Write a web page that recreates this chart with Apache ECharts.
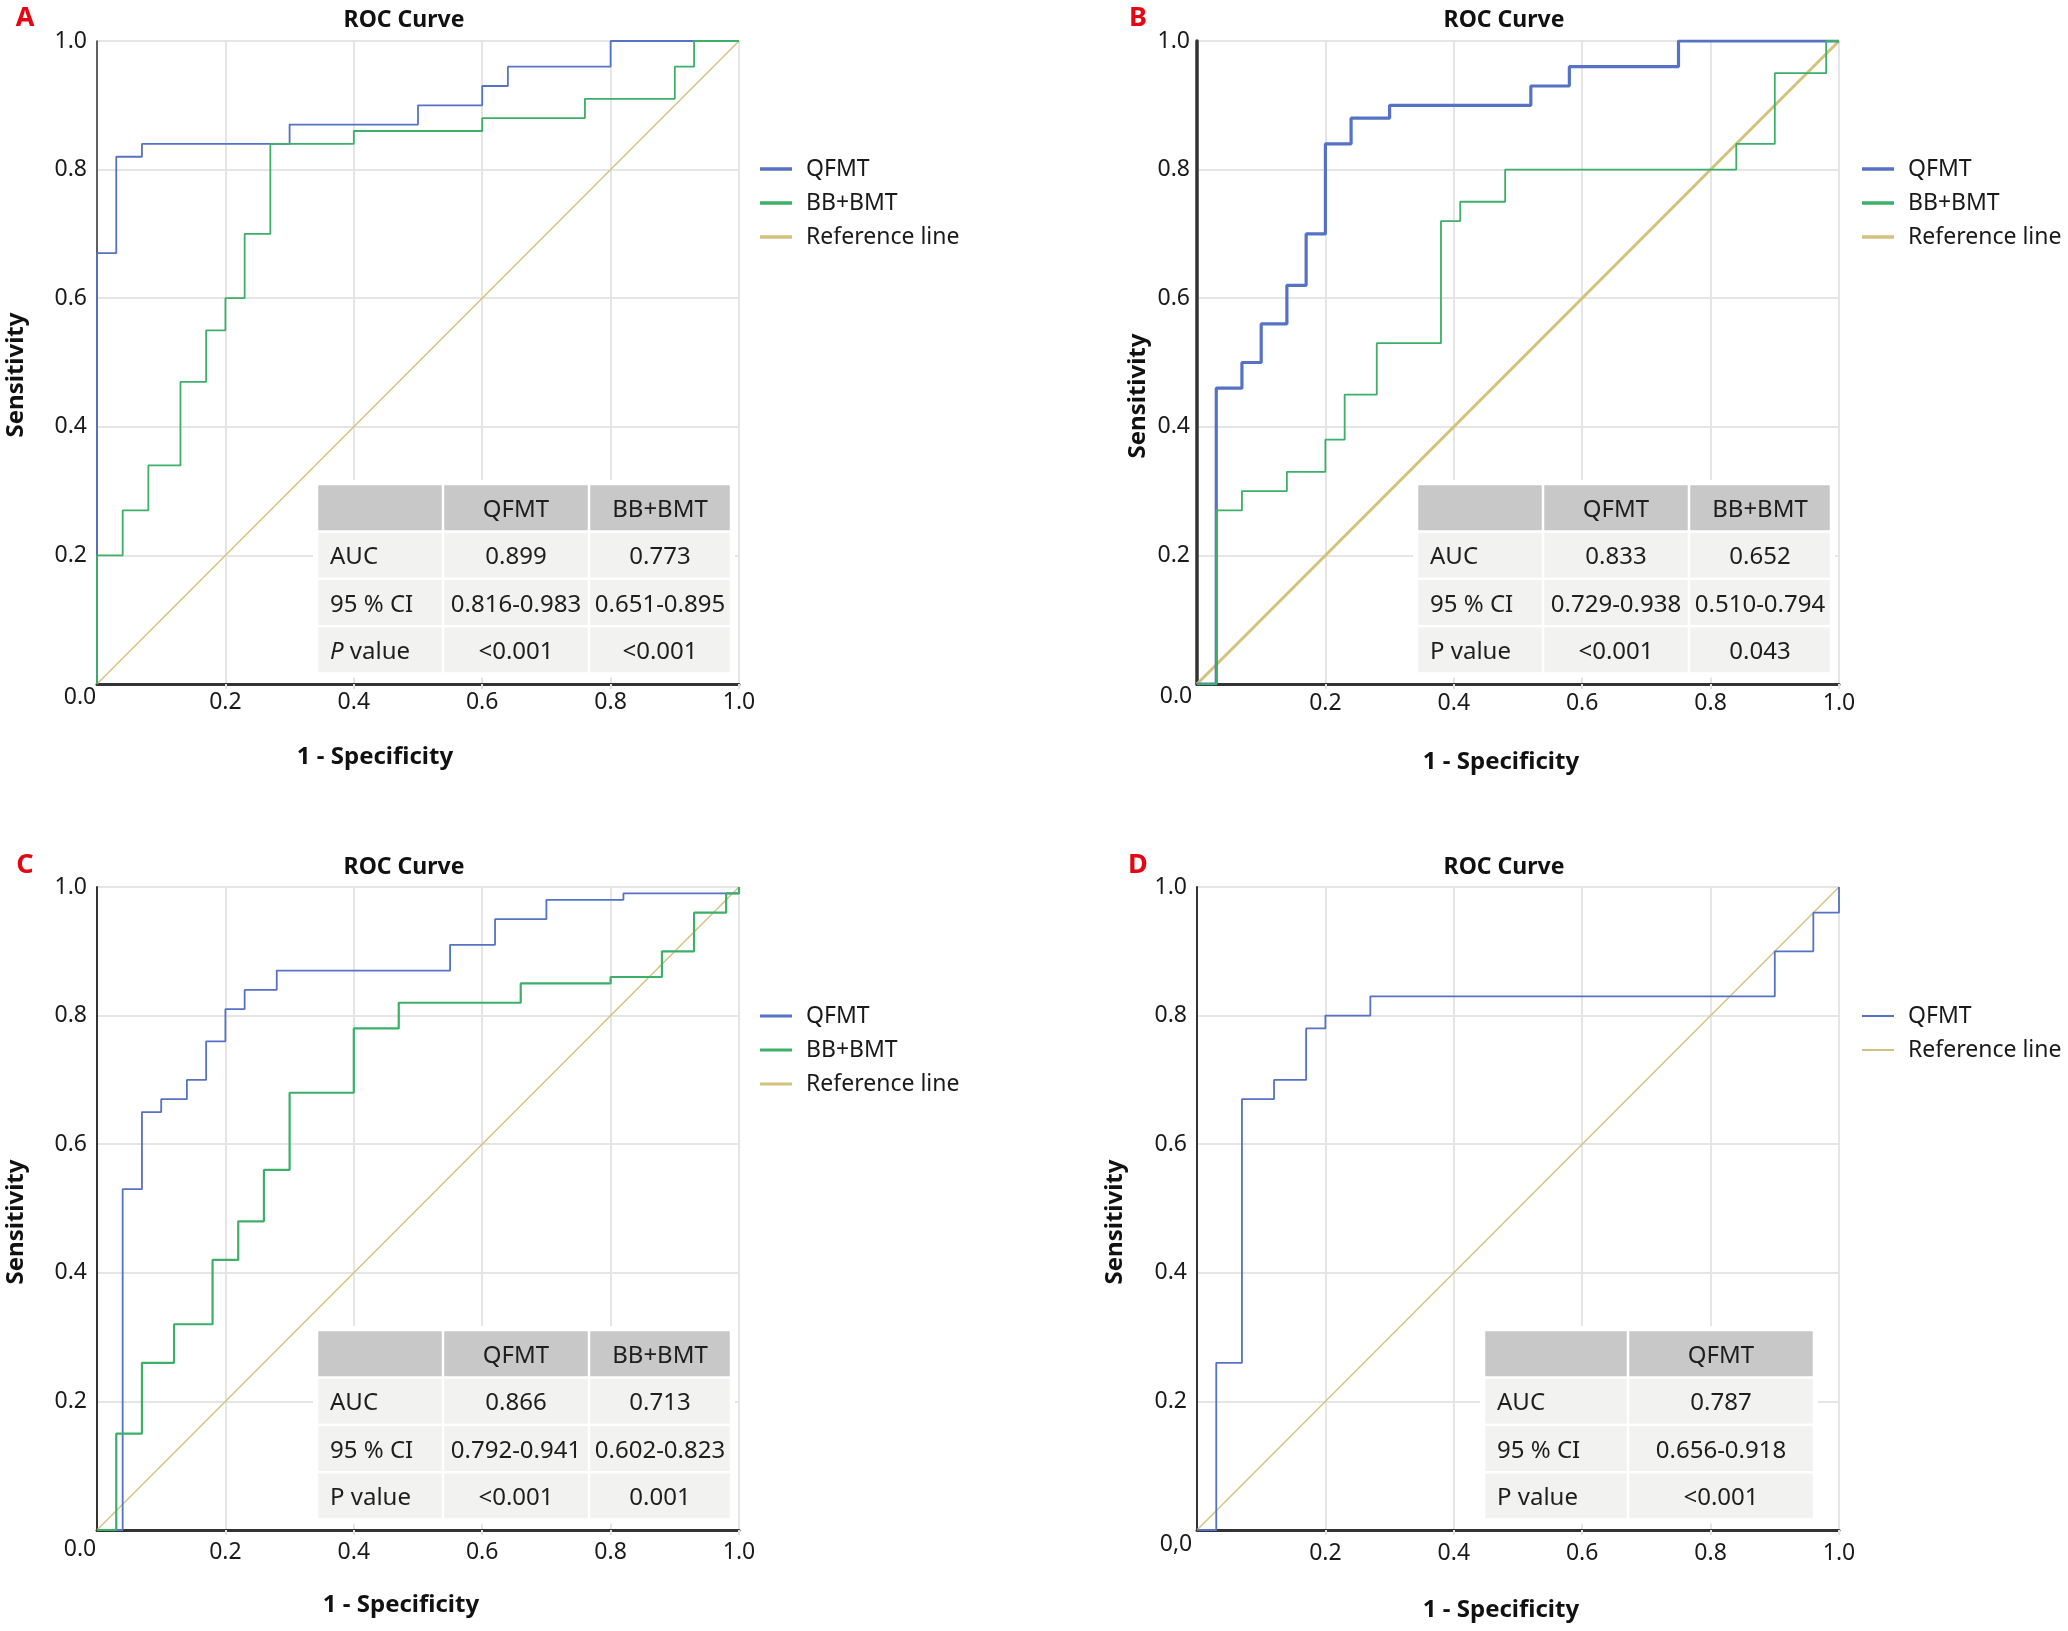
<!DOCTYPE html>
<html>
<head>
<meta charset="utf-8">
<script src="https://cdn.jsdelivr.net/npm/echarts/dist/echarts.min.js"></script>
<style>html,body{margin:0;padding:0;background:#fff}#c{width:2068px;height:1631px}</style>
</head>
<body>
<div id="c"></div>
<script>
// ---------------- DATA ----------------
const panelLabels = ['A', 'B', 'C', 'D'];
const chartTitle = 'ROC Curve';
const xAxisTitle = '1 - Specificity';
const yAxisTitle = 'Sensitivity';
const cornerLabels = ['0.0', '0.0', '0.0', '0,0'];
const tickValues = [0, 0.2, 0.4, 0.6, 0.8, 1.0];

// ROC points [1 - specificity, sensitivity]
const A_QFMT = [[0,0],[0,0.67],[0.03,0.82],[0.07,0.84],[0.30,0.87],[0.50,0.90],[0.60,0.93],[0.64,0.96],[0.80,1.0],[1.0,1.0]];
const A_BB = [[0,0],[0,0.20],[0.04,0.27],[0.08,0.34],[0.13,0.47],[0.17,0.55],[0.20,0.60],[0.23,0.70],[0.27,0.84],[0.40,0.86],[0.60,0.88],[0.76,0.91],[0.90,0.96],[0.93,1.0],[1.0,1.0]];
const B_QFMT = [[0,0],[0.03,0.46],[0.07,0.50],[0.10,0.56],[0.14,0.62],[0.17,0.70],[0.20,0.84],[0.24,0.88],[0.30,0.90],[0.52,0.93],[0.58,0.96],[0.75,1.0],[1.0,1.0]];
const B_BB = [[0,0],[0.03,0.27],[0.07,0.30],[0.14,0.33],[0.20,0.38],[0.23,0.45],[0.28,0.53],[0.38,0.72],[0.41,0.75],[0.48,0.80],[0.84,0.84],[0.90,0.95],[0.98,1.0],[1.0,1.0]];
const C_QFMT = [[0,0],[0.04,0.53],[0.07,0.65],[0.10,0.67],[0.14,0.70],[0.17,0.76],[0.20,0.81],[0.23,0.84],[0.28,0.87],[0.55,0.91],[0.62,0.95],[0.70,0.98],[0.82,0.99],[1.0,1.0]];
const C_BB = [[0,0],[0.03,0.15],[0.07,0.26],[0.12,0.32],[0.18,0.42],[0.22,0.48],[0.26,0.56],[0.30,0.68],[0.40,0.78],[0.47,0.82],[0.66,0.85],[0.80,0.86],[0.88,0.90],[0.93,0.96],[0.98,0.99],[1.0,1.0]];
const D_QFMT = [[0,0],[0.03,0.26],[0.07,0.67],[0.12,0.70],[0.17,0.78],[0.20,0.80],[0.27,0.83],[0.90,0.90],[0.96,0.96],[1.0,1.0]];
const referenceLine = [[0,0],[1,1]];

// Tables
const headAC = ['', 'QFMT', 'BB+BMT'];
const tableA = [['AUC','0.899','0.773'],['95 % CI','0.816-0.983','0.651-0.895'],['{i|P} value','<0.001','<0.001']];
const tableB = [['AUC','0.833','0.652'],['95 % CI','0.729-0.938','0.510-0.794'],['P value','<0.001','0.043']];
const tableC = [['AUC','0.866','0.713'],['95 % CI','0.792-0.941','0.602-0.823'],['P value','<0.001','0.001']];
const headD = ['', 'QFMT'];
const tableD = [['AUC','0.787'],['95 % CI','0.656-0.918'],['P value','<0.001']];

// ---------------- STYLE / LAYOUT ----------------
const FONT = '"Noto Sans", "DejaVu Sans", sans-serif';
const BLUE = '#5572c4', GREEN = '#3caf69', TAN = '#d4c17c';
const grids = [
  {left: 97, top: 41, width: 642, height: 643},
  {left: 1197, top: 41, width: 642, height: 643},
  {left: 97, top: 887, width: 642, height: 643},
  {left: 1197, top: 887, width: 642, height: 643}
];
const panelStyle = [
  {yW: 1.5, xW: 3, xM: 7, yM: 10, qW: 1.8, bW: 1.8, rW: 1.4, legH: 3.5},
  {yW: 3.5, xW: 3, xM: 8, yM: 7, qW: 3.2, bW: 1.8, rW: 3, legH: 3.5},
  {yW: 2, xW: 3, xM: 11, yM: 10, qW: 1.8, bW: 2.2, rW: 1.4, legH: 3},
  {yW: 2, xW: 3, xM: 12, yM: 10, qW: 1.8, bW: 0, rW: 1.4, legH: 2}
];
const curves = [
  {q: A_QFMT, b: A_BB}, {q: B_QFMT, b: B_BB}, {q: C_QFMT, b: C_BB}, {q: D_QFMT, b: null}
];
const tables = [
  {head: headAC, rows: tableA, colW: [126, 146, 142], offX: 220},
  {head: headAC, rows: tableB, colW: [126, 146, 142], offX: 220},
  {head: headAC, rows: tableC, colW: [126, 146, 142], offX: 220},
  {head: headD, rows: tableD, colW: [144, 186], offX: 287}
];
const titlePos = [[404, 20], [1504, 20], [404, 867], [1504, 867]];
const letterPos = [[25, 18], [1138, 18], [25, 865], [1138, 865]];
const xTitlePos = [[375, 757], [1501, 762], [401, 1605], [1501, 1610]];
const yTitlePos = [[16, 375], [1138, 396], [16, 1222], [1115, 1222]];
const cornerPos = [[80, 697], [1176, 696], [80, 1549], [1176, 1544]];
const legendTop = [[760, 157], [1862, 157], [760, 1004], [1862, 1004]];

const fmt = v => v.toFixed(1);

const xAxes = [], yAxes = [], series = [], legends = [], elements = [];

grids.forEach((g, i) => {
  const ps = panelStyle[i];
  xAxes.push({
    type: 'value', gridIndex: i, min: 0, max: 1, interval: 0.2,
    axisLine: {show: true, onZero: false, lineStyle: {color: '#333', width: ps.xW}},
    axisTick: {show: true, length: 5, lineStyle: {color: '#e2e2e2', width: 2}},
    axisLabel: {showMinLabel: false, margin: ps.xM, fontSize: 23, color: '#1a1a1a', fontFamily: FONT, formatter: fmt},
    splitLine: {show: true, lineStyle: {color: '#e5e5e5', width: 2}}
  });
  yAxes.push({
    type: 'value', gridIndex: i, min: 0, max: 1, interval: 0.2,
    axisLine: {show: true, onZero: false, lineStyle: {color: '#333', width: ps.yW}},
    axisTick: {show: false},
    axisLabel: {showMinLabel: false, margin: ps.yM, fontSize: 23, color: '#1a1a1a', fontFamily: FONT, formatter: fmt},
    splitLine: {show: true, lineStyle: {color: '#e5e5e5', width: 2}}
  });
  series.push({
    name: 'Reference line', type: 'line', xAxisIndex: i, yAxisIndex: i, data: referenceLine,
    symbol: 'none', lineStyle: {color: TAN, width: ps.rW}, itemStyle: {color: TAN}, z: 2
  });
  series.push({
    name: 'QFMT', type: 'line', xAxisIndex: i, yAxisIndex: i, data: curves[i].q, step: 'end',
    symbol: 'none', lineStyle: {color: BLUE, width: ps.qW}, itemStyle: {color: BLUE}, z: 3
  });
  if (curves[i].b) {
    series.push({
      name: 'BB+BMT', type: 'line', xAxisIndex: i, yAxisIndex: i, data: curves[i].b, step: 'end',
      symbol: 'none', lineStyle: {color: GREEN, width: ps.bW}, itemStyle: {color: GREEN}, z: 4
    });
  }
  const names = curves[i].b ? ['QFMT', 'BB+BMT', 'Reference line'] : ['QFMT', 'Reference line'];
  const legendColors = {'QFMT': BLUE, 'BB+BMT': GREEN, 'Reference line': TAN};
  legends.push({
    orient: 'vertical', left: legendTop[i][0], top: legendTop[i][1], padding: 0,
    icon: 'rect', itemWidth: 32, itemHeight: ps.legH, itemGap: 10, selectedMode: false,
    textStyle: {fontSize: 23, fontFamily: FONT, color: '#1a1a1a', lineHeight: 24, padding: [0, 0, 0, 9]},
    data: names.map(n => ({name: n, itemStyle: {color: legendColors[n]}}))
  });

  // texts
  const txt = (x, y, text, font, color, extra) => Object.assign({
    type: 'text', x: x, y: y, z: 50,
    style: {text: text, font: font, fill: color, align: 'center', verticalAlign: 'middle',
            textAlign: 'center', textVerticalAlign: 'middle'}
  }, extra || {});
  elements.push(txt(letterPos[i][0], letterPos[i][1], panelLabels[i], 'bold 27px ' + FONT, '#e30613'));
  elements.push(txt(titlePos[i][0], titlePos[i][1], chartTitle, 'bold 23px ' + FONT, '#111'));
  elements.push(txt(xTitlePos[i][0], xTitlePos[i][1], xAxisTitle, 'bold 24px ' + FONT, '#111'));
  elements.push(txt(yTitlePos[i][0], yTitlePos[i][1], yAxisTitle, 'bold 24px ' + FONT, '#111', {rotation: Math.PI / 2}));
  elements.push(txt(cornerPos[i][0], cornerPos[i][1], cornerLabels[i], '23px ' + FONT, '#1a1a1a'));

  // table
  const t = tables[i];
  const ROW_H = 47.4;
  const x0 = g.left + t.offX, y0 = g.top + 443;
  const totalW = t.colW.reduce((a, b) => a + b, 0);
  const allRows = [t.head].concat(t.rows);
  elements.push({type: 'rect', z: 40, shape: {x: x0 - 4, y: y0 - 4, width: totalW + 8, height: ROW_H * allRows.length + 8},
                 style: {fill: '#ffffff'}});
  allRows.forEach((row, r) => {
    let cx = x0;
    row.forEach((cell, c) => {
      const w = t.colW[c];
      elements.push({type: 'rect', z: 41, shape: {x: cx + 1.25, y: y0 + r * ROW_H + 1.25, width: w - 2.5, height: ROW_H - 2.5},
                     style: {fill: r === 0 ? '#c8c8c8' : '#f2f2f1'}});
      if (cell) {
        const left = c === 0;
        elements.push({
          type: 'text', z: 42, x: left ? cx + 13 : cx + w / 2, y: y0 + r * ROW_H + ROW_H / 2 + 2.5,
          style: {text: cell, font: '24px ' + FONT, fill: '#1e1e1e',
                  align: left ? 'left' : 'center', verticalAlign: 'middle',
                  textAlign: left ? 'left' : 'center', textVerticalAlign: 'middle',
                  rich: {i: {fontStyle: 'italic', fontSize: 24, fontFamily: FONT, fill: '#1e1e1e'}}}
        });
      }
      cx += w;
    });
  });
});

const chart = echarts.init(document.getElementById('c'), null, {renderer: 'canvas'});
chart.setOption({
  animation: false,
  backgroundColor: '#ffffff',
  grid: grids.map(g => Object.assign({containLabel: false}, g)),
  xAxis: xAxes,
  yAxis: yAxes,
  legend: legends,
  series: series,
  graphic: {elements: elements}
});
</script>
</body>
</html>
